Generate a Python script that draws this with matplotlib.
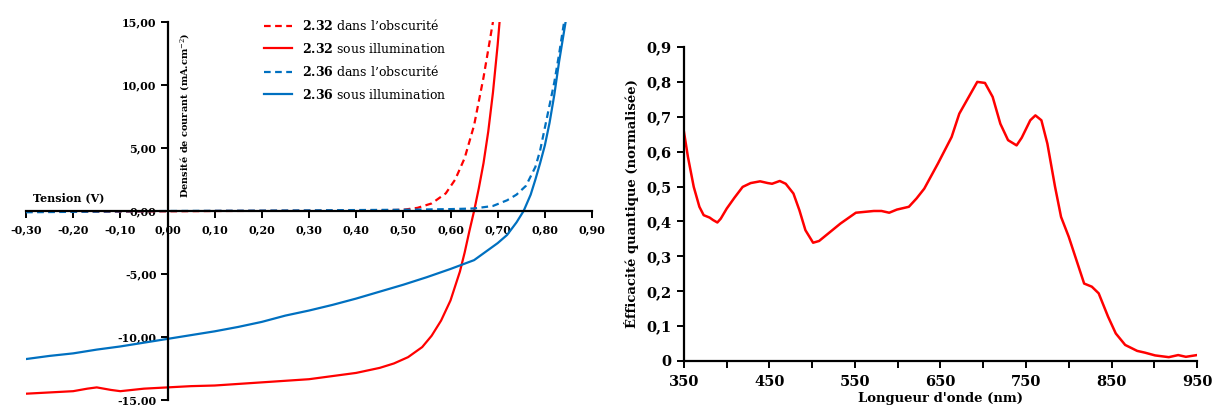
import matplotlib
matplotlib.use("Agg")
import matplotlib.pyplot as plt
from matplotlib.ticker import FuncFormatter, MultipleLocator, FixedLocator

plt.rcParams['font.family'] = 'DejaVu Serif'
plt.rcParams['mathtext.fontset'] = 'dejavuserif'

# J-V curves (left chart)
red_dark_v = [-0.30, -0.10, 0.10, 0.30, 0.45, 0.50, 0.53, 0.56, 0.59, 0.61, 0.63, 0.65, 0.67, 0.68, 0.69]
red_dark_j = [-0.05, -0.05, 0.0, 0.02, 0.05, 0.1, 0.25, 0.6, 1.4, 2.5, 4.2, 6.8, 10.6, 12.8, 15.0]

red_light_v = [-0.30, -0.25, -0.20, -0.17, -0.15, -0.12, -0.10, -0.05, 0.00, 0.05, 0.10, 0.20,
               0.30, 0.35, 0.40, 0.45, 0.48, 0.51, 0.54, 0.56, 0.58, 0.60, 0.62, 0.63, 0.64,
               0.65, 0.66, 0.67, 0.68, 0.69, 0.70, 0.704]
red_light_j = [-14.5, -14.4, -14.3, -14.1, -14.0, -14.2, -14.3, -14.1, -14.0, -13.9, -13.85, -13.6,
               -13.35, -13.1, -12.85, -12.45, -12.1, -11.6, -10.8, -9.9, -8.7, -7.1, -4.8, -3.3, -1.6,
               0.0, 1.8, 3.8, 6.3, 9.4, 13.2, 15.0]

blue_dark_v = [-0.30, 0.00, 0.30, 0.50, 0.60, 0.65, 0.69, 0.72, 0.74, 0.76, 0.78, 0.79, 0.80, 0.81,
               0.82, 0.83, 0.84, 0.842]
blue_dark_j = [-0.1, 0.0, 0.05, 0.1, 0.15, 0.2, 0.4, 0.85, 1.3, 2.0, 3.5, 4.8, 6.6, 8.4,
               10.2, 12.4, 14.8, 15.0]

blue_light_v = [-0.30, -0.25, -0.20, -0.15, -0.10, -0.05, 0.00, 0.05, 0.10, 0.15, 0.20, 0.25, 0.30,
                0.35, 0.40, 0.45, 0.50, 0.55, 0.60, 0.65, 0.70, 0.72, 0.74, 0.755, 0.77, 0.78,
                0.79, 0.80, 0.81, 0.82, 0.83, 0.844]
blue_light_j = [-11.75, -11.5, -11.3, -11.0, -10.75, -10.45, -10.15, -9.85, -9.55, -9.2, -8.8, -8.3,
                -7.9, -7.45, -6.95, -6.4, -5.85, -5.25, -4.6, -3.9, -2.55, -1.9, -0.9, 0.0, 1.3,
                2.5, 3.8, 5.2, 7.0, 9.2, 11.8, 15.0]

legend_labels = [r"$\mathbf{2.32}$ dans l’obscurité", r"$\mathbf{2.32}$ sous illumination",
                 r"$\mathbf{2.36}$ dans l’obscurité", r"$\mathbf{2.36}$ sous illumination"]

# EQE spectrum (right chart)
wavelength = [350, 354.6, 361.4, 368, 373, 380, 384, 389, 393, 400, 409, 418.6, 428, 439, 448, 453,
              462, 469, 478, 485, 492, 501, 508, 521, 533, 551, 572, 581, 590, 599, 613, 622, 631,
              647, 663, 672, 684, 693, 702, 711, 720, 729, 739, 745, 755, 761, 768, 775, 784, 791,
              800, 809, 818, 827, 835, 846, 855, 866, 880, 889, 901, 917, 928, 937, 950]
eqe = [0.656, 0.585, 0.499, 0.442, 0.418, 0.411, 0.404, 0.397, 0.408, 0.437, 0.468, 0.499, 0.510,
       0.515, 0.510, 0.508, 0.516, 0.508, 0.480, 0.432, 0.375, 0.339, 0.344, 0.370, 0.394, 0.425,
       0.430, 0.430, 0.425, 0.434, 0.442, 0.466, 0.494, 0.566, 0.642, 0.709, 0.761, 0.800, 0.797,
       0.757, 0.680, 0.633, 0.618, 0.640, 0.690, 0.704, 0.690, 0.623, 0.499, 0.413, 0.356, 0.289,
       0.222, 0.213, 0.194, 0.127, 0.079, 0.046, 0.029, 0.024, 0.016, 0.011, 0.017, 0.012, 0.017]
wl_ticks = [350, 450, 550, 650, 750, 850, 950]

fig = plt.figure(figsize=(12.12, 4.05), dpi=100)


def comma2(v, p):
    s = f"{v:.2f}".replace('.', ',')
    return '0,00' if s == '-0,00' else s


# ---- left chart ----
ax1 = fig.add_axes([26 / 1212, 5 / 405, 566 / 1212, 378 / 405])
red = '#FF0000'
blue = '#0070C0'
l1, = ax1.plot(red_dark_v, red_dark_j, color=red, lw=1.6, ls=(0, (3, 2)))
l2, = ax1.plot(red_light_v, red_light_j, color=red, lw=1.6)
l3, = ax1.plot(blue_dark_v, blue_dark_j, color=blue, lw=1.6, ls=(0, (3, 2)))
l4, = ax1.plot(blue_light_v, blue_light_j, color=blue, lw=1.6)
ax1.set_xlim(-0.30, 0.90)
ax1.set_ylim(-15, 15)
ax1.spines['left'].set_position(('data', 0))
ax1.spines['bottom'].set_position(('data', 0))
ax1.spines['top'].set_visible(False)
ax1.spines['right'].set_visible(False)
for s in ['left', 'bottom']:
    ax1.spines[s].set_linewidth(1.6)
ax1.xaxis.set_major_locator(MultipleLocator(0.1))
ax1.yaxis.set_major_locator(MultipleLocator(5))
ax1.xaxis.set_major_formatter(FuncFormatter(comma2))
ax1.yaxis.set_major_formatter(FuncFormatter(comma2))
ax1.tick_params(axis='both', direction='out', length=5, width=1.4, labelsize=8)
ax1.tick_params(axis='x', pad=5)
ax1.tick_params(axis='y', pad=3)
for lab in ax1.get_xticklabels() + ax1.get_yticklabels():
    lab.set_fontweight('bold')
ax1.text(-0.285, 0.6, "Tension (V)", fontsize=8, fontweight='bold', va='bottom', ha='left')
ax1.text(0.037, 1.0, "Densité de courant (mA.cm$^{-2}$)", fontsize=7, fontweight='bold',
         rotation=90, va='bottom', ha='center')
ax1.legend([l1, l2, l3, l4], legend_labels, loc='upper left', bbox_to_anchor=(258 / 1212, 1 - 12 / 405),
           bbox_transform=fig.transFigure, frameon=False, fontsize=9, handlelength=2.2,
           labelspacing=0.68, handletextpad=0.8, borderpad=0)

# ---- right chart ----
ax2 = fig.add_axes([684 / 1212, 44 / 405, 513 / 1212, 314 / 405])
ax2.plot(wavelength, eqe, color=red, lw=1.8)
ax2.set_xlim(350, 950)
ax2.set_ylim(0, 0.9)
ax2.spines['top'].set_visible(False)
ax2.spines['right'].set_visible(False)
for s in ['left', 'bottom']:
    ax2.spines[s].set_linewidth(1.6)
ax2.xaxis.set_major_locator(FixedLocator(wl_ticks))
ax2.xaxis.set_minor_locator(FixedLocator([w + 50 for w in wl_ticks[:-1]]))
ax2.yaxis.set_major_locator(MultipleLocator(0.1))
ax2.yaxis.set_major_formatter(FuncFormatter(lambda v, p: "0" if abs(v) < 1e-9 else f"{v:.1f}".replace('.', ',')))
ax2.tick_params(axis='both', which='both', direction='out', length=5, width=1.4, labelsize=10.5)
ax2.tick_params(axis='x', pad=5)
ax2.tick_params(axis='y', pad=4)
for lab in ax2.get_xticklabels() + ax2.get_yticklabels():
    lab.set_fontweight('bold')
ax2.set_ylabel("Éfficacité quantique (normalisée)", fontsize=9.5, fontweight='bold', labelpad=5)
ax2.set_xlabel("Longueur d'onde (nm)", fontsize=9.5, fontweight='bold', labelpad=2)

fig.savefig("out.png", dpi=100)
